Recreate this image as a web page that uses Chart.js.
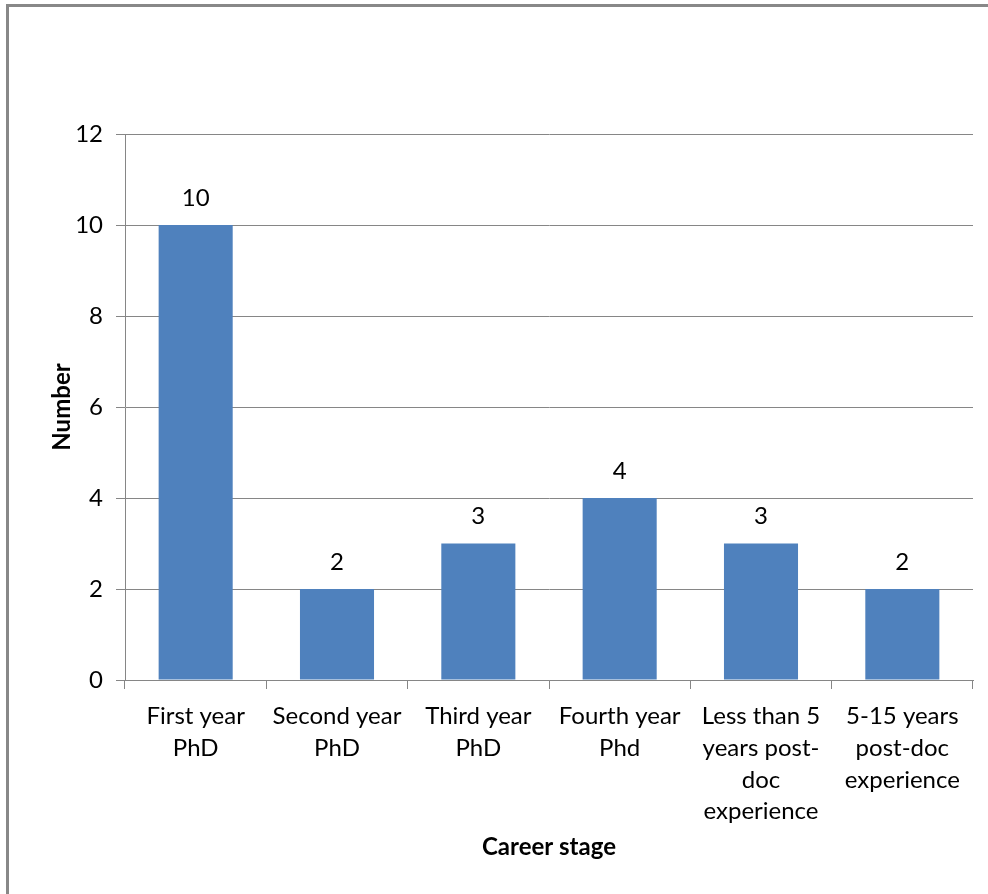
<html>
<head>
<meta charset="utf-8"/>
<title>Career stage</title>
<script src="https://cdn.jsdelivr.net/npm/chart.js@4.4.0/dist/chart.umd.min.js"></script>
<style>
  body { margin:0; background:#fff; }
  #frame { position:absolute; left:6px; top:4px; width:982px; height:890px;
           border-top:3px solid #888; border-left:3px solid #888; }
  #wrap { position:absolute; left:0; top:0; width:988px; height:894px; }
</style>
</head>
<body>
<div id="frame"></div>
<div id="wrap"><canvas id="myChart" width="988" height="894"></canvas></div>

<script>
// chart data
var stages = [
    ["First year", "PhD"],
    ["Second year", "PhD"],
    ["Third year", "PhD"],
    ["Fourth year", "Phd"],
    ["Less than 5", "years post-", "doc", "experience"],
    ["5-15 years", "post-doc", "experience"]
];
var counts = [10, 2, 3, 4, 3, 2];
var yTicks = [0, 2, 4, 6, 8, 10, 12];

var FONT = "Lato, 'Open Sans', sans-serif";

// draws the number above each bar
var barLabels = {
    id: 'barLabels',
    afterDatasetsDraw: function(chart) {
        var ctx = chart.ctx;
        var meta = chart.getDatasetMeta(0);
        ctx.save();
        ctx.font = "24px " + FONT;
        ctx.fillStyle = "#000";
        ctx.textAlign = "center";
        ctx.textBaseline = "middle";
        meta.data.forEach(function(bar, i) {
            ctx.fillText(String(counts[i]), bar.x, bar.y - 27);
        });
        ctx.restore();
    }
};

var ctx = document.getElementById("myChart");
var myChart = new Chart(ctx, {
    type: 'bar',
    data: {
        labels: stages,
        datasets: [{
            label: 'Number',
            data: counts,
            backgroundColor: '#4f81bd',
            borderWidth: 0,
            categoryPercentage: 1.0,
            barPercentage: 0.524
        }]
    },
    options: {
        responsive: false,
        animation: false,
        devicePixelRatio: 1,
        layout: { padding: { top: 134, right: 15, left: 0, bottom: 0 } },
        plugins: {
            legend: { display: false },
            tooltip: { enabled: false }
        },
        scales: {
            y: {
                min: 0,
                max: 12,
                afterBuildTicks: function(scale) {
                    scale.ticks = yTicks.map(function(v) { return { value: v }; });
                },
                afterFit: function(scale) { scale.width = 125; },
                border: { color: '#868686', width: 1 },
                grid: { color: '#868686', lineWidth: 1, tickLength: 9 },
                ticks: {
                    color: '#000',
                    padding: 13,
                    font: { family: FONT, size: 24 }
                },
                title: {
                    display: true,
                    text: 'Number',
                    color: '#000',
                    padding: { top: 48, bottom: 0 },
                    font: { family: FONT, size: 24, weight: 'bold' }
                }
            },
            x: {
                afterFit: function(scale) { scale.height = 894 - 680; },
                border: { color: '#868686', width: 1 },
                grid: { display: true, drawOnChartArea: false, color: '#868686', tickLength: 9, offset: true },
                ticks: {
                    color: '#000',
                    padding: 11,
                    maxRotation: 0,
                    autoSkip: false,
                    font: { family: FONT, size: 24, lineHeight: 1.33 }
                },
                title: {
                    display: true,
                    text: 'Career stage',
                    color: '#000',
                    padding: { top: 0, bottom: 32 },
                    font: { family: FONT, size: 24, weight: 'bold' }
                }
            }
        }
    },
    plugins: [barLabels]
});
</script>
</body>
</html>
